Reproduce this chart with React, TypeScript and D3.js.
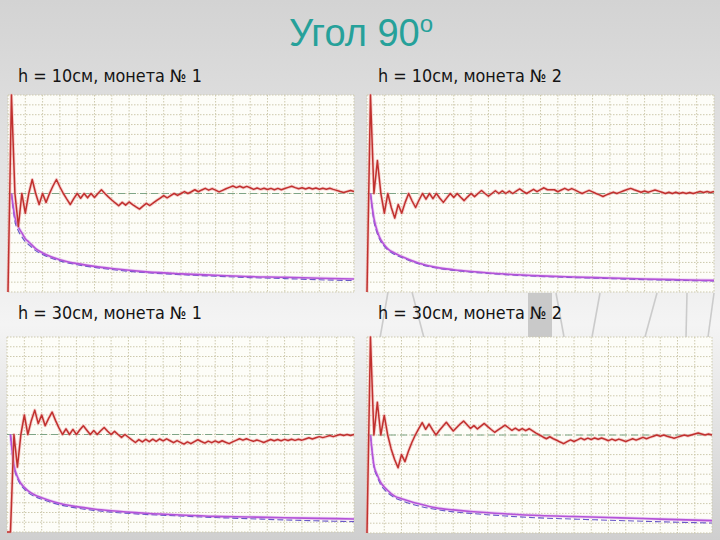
import React from 'react';
import * as d3 from 'd3';

// ---------- data ----------
const TITLE = 'Угол 90';
const TITLE_SUP = 'о';
const panelTitles = [
  'h = 10см, монета № 1',
  'h = 10см, монета № 2',
  'h = 30см, монета № 1',
  'h = 30см, монета № 2',
];

const X_MAX = 100;
const EXPECTED = 0.5;

// relative frequency of heads, throws n = 0..100
const freq1 = [0, 1, 0.5, 0.333, 0.5, 0.4, 0.5, 0.571, 0.5, 0.444, 0.5,
  0.455, 0.5, 0.538, 0.571, 0.533, 0.5, 0.471, 0.444, 0.474, 0.5,
  0.476, 0.5, 0.478, 0.5, 0.48, 0.5, 0.519, 0.5, 0.483, 0.467,
  0.452, 0.438, 0.455, 0.441, 0.457, 0.444, 0.432, 0.421, 0.436, 0.45,
  0.439, 0.452, 0.465, 0.477, 0.489, 0.478, 0.489, 0.5, 0.49, 0.5,
  0.51, 0.5, 0.509, 0.519, 0.509, 0.518, 0.526, 0.517, 0.525, 0.517,
  0.508, 0.516, 0.524, 0.531, 0.538, 0.53, 0.537, 0.529, 0.536, 0.529,
  0.521, 0.528, 0.521, 0.527, 0.52, 0.526, 0.519, 0.526, 0.519, 0.525,
  0.531, 0.537, 0.53, 0.524, 0.529, 0.523, 0.529, 0.523, 0.528, 0.522,
  0.527, 0.522, 0.527, 0.521, 0.516, 0.51, 0.505, 0.51, 0.515, 0.51];

const freq2 = [0, 1, 0.5, 0.667, 0.5, 0.4, 0.5, 0.429, 0.375, 0.444, 0.4,
  0.455, 0.5, 0.462, 0.429, 0.467, 0.5, 0.471, 0.5, 0.474, 0.5,
  0.476, 0.455, 0.478, 0.5, 0.48, 0.5, 0.481, 0.464, 0.483, 0.5,
  0.484, 0.5, 0.515, 0.5, 0.486, 0.5, 0.514, 0.5, 0.513, 0.5,
  0.512, 0.5, 0.512, 0.523, 0.511, 0.5, 0.511, 0.521, 0.51, 0.52,
  0.529, 0.519, 0.519, 0.519, 0.509, 0.518, 0.526, 0.517, 0.525, 0.517,
  0.508, 0.5, 0.508, 0.516, 0.508, 0.5, 0.493, 0.485, 0.493, 0.5,
  0.507, 0.5, 0.507, 0.514, 0.52, 0.526, 0.519, 0.513, 0.506, 0.513,
  0.506, 0.512, 0.518, 0.512, 0.506, 0.5, 0.506, 0.5, 0.506, 0.5,
  0.505, 0.5, 0.505, 0.5, 0.505, 0.51, 0.505, 0.51, 0.505, 0.51];

const freq3 = [0, 0, 0.5, 0.333, 0.5, 0.6, 0.5, 0.571, 0.625, 0.556, 0.6,
  0.545, 0.583, 0.615, 0.571, 0.533, 0.5, 0.529, 0.5, 0.526, 0.5,
  0.524, 0.545, 0.522, 0.5, 0.52, 0.5, 0.519, 0.536, 0.517, 0.5,
  0.516, 0.5, 0.485, 0.5, 0.486, 0.472, 0.459, 0.474, 0.462, 0.475,
  0.463, 0.476, 0.465, 0.477, 0.467, 0.478, 0.468, 0.458, 0.469, 0.46,
  0.451, 0.462, 0.453, 0.463, 0.473, 0.464, 0.456, 0.466, 0.458, 0.467,
  0.459, 0.468, 0.46, 0.453, 0.462, 0.47, 0.478, 0.471, 0.478, 0.471,
  0.465, 0.472, 0.466, 0.459, 0.467, 0.474, 0.468, 0.474, 0.468, 0.475,
  0.469, 0.476, 0.47, 0.476, 0.471, 0.477, 0.483, 0.477, 0.483, 0.489,
  0.484, 0.489, 0.495, 0.489, 0.495, 0.5, 0.495, 0.5, 0.495, 0.5];

const freq4 = [0, 1, 0.5, 0.667, 0.5, 0.6, 0.5, 0.429, 0.375, 0.333, 0.4,
  0.364, 0.417, 0.462, 0.5, 0.533, 0.563, 0.529, 0.556, 0.526, 0.5,
  0.524, 0.545, 0.565, 0.542, 0.52, 0.538, 0.556, 0.571, 0.552, 0.533,
  0.548, 0.531, 0.545, 0.559, 0.543, 0.528, 0.514, 0.526, 0.538, 0.55,
  0.537, 0.524, 0.535, 0.523, 0.533, 0.522, 0.532, 0.521, 0.51, 0.5,
  0.49, 0.481, 0.491, 0.481, 0.473, 0.464, 0.456, 0.466, 0.475, 0.467,
  0.475, 0.484, 0.476, 0.484, 0.477, 0.485, 0.478, 0.485, 0.478, 0.471,
  0.479, 0.472, 0.479, 0.473, 0.467, 0.474, 0.481, 0.474, 0.481, 0.488,
  0.481, 0.488, 0.494, 0.5, 0.494, 0.5, 0.494, 0.489, 0.483, 0.489,
  0.495, 0.5, 0.495, 0.5, 0.505, 0.51, 0.505, 0.5, 0.505, 0.5];

// deviation curves, sampled at these throw counts
const devN = [1, 2, 3, 4, 5, 6, 8, 10, 15, 20, 25, 30, 40, 50, 60, 70, 80, 90, 100];
const devActual1 = [0.5, 0.38, 0.33, 0.3, 0.27, 0.254, 0.22, 0.198, 0.164, 0.144, 0.13, 0.119, 0.102, 0.092, 0.085, 0.078, 0.075, 0.07, 0.066];
const devTheory1 = [0.5, 0.36, 0.31, 0.28, 0.255, 0.24, 0.21, 0.19, 0.158, 0.138, 0.125, 0.114, 0.098, 0.088, 0.08, 0.073, 0.068, 0.062, 0.058];
const devActual2 = [0.5, 0.374, 0.306, 0.264, 0.239, 0.219, 0.197, 0.18, 0.146, 0.125, 0.113, 0.104, 0.091, 0.082, 0.076, 0.071, 0.066, 0.062, 0.059];
const devTheory2 = [0.5, 0.36, 0.295, 0.255, 0.232, 0.213, 0.19, 0.175, 0.142, 0.122, 0.11, 0.101, 0.088, 0.079, 0.073, 0.068, 0.063, 0.059, 0.056];
const devActual3 = [0.5, 0.343, 0.283, 0.249, 0.229, 0.212, 0.19, 0.176, 0.147, 0.13, 0.118, 0.109, 0.096, 0.087, 0.08, 0.077, 0.073, 0.07, 0.067];
const devTheory3 = [0.5, 0.335, 0.275, 0.24, 0.22, 0.203, 0.182, 0.168, 0.14, 0.123, 0.111, 0.102, 0.09, 0.082, 0.074, 0.068, 0.062, 0.057, 0.053];
const devActual4 = [0.5, 0.346, 0.295, 0.257, 0.235, 0.217, 0.188, 0.175, 0.149, 0.128, 0.118, 0.11, 0.098, 0.089, 0.084, 0.079, 0.074, 0.068, 0.063];
const devTheory4 = [0.5, 0.34, 0.285, 0.245, 0.222, 0.205, 0.18, 0.165, 0.138, 0.12, 0.108, 0.1, 0.087, 0.077, 0.071, 0.065, 0.06, 0.055, 0.051];

const freqs = [freq1, freq2, freq3, freq4];
const devActual = [devActual1, devActual2, devActual3, devActual4];
const devTheory = [devTheory1, devTheory2, devTheory3, devTheory4];

// ---------- layout / style ----------
const W = 720;
const H = 540;
const panelBoxes = [
  { x0: 8, x1: 354, y0: 95, y1: 292, tx: 18, ty: 82 },
  { x0: 367, x1: 714, y0: 95, y1: 292, tx: 378, ty: 82 },
  { x0: 7, x1: 354, y0: 337, y1: 532, tx: 18, ty: 319 },
  { x0: 367, x1: 712, y0: 337, y1: 533, tx: 378, ty: 319 },
];

const C = {
  title: '#26a19a',
  text: '#141414',
  plotBg: '#fdfdf8',
  grid: '#cdc9ad',
  expected: '#7fa586',
  red: '#c0302e',
  redHalo: '#f0a8a8',
  actual: '#b453d8',
  actualHalo: '#e2b6f0',
  theory: '#6a58c8',
};

function Panel({ idx }: { idx: number }) {
  const b = panelBoxes[idx];
  const x = d3.scaleLinear().domain([0, X_MAX]).range([b.x0, b.x1]);
  const y = d3.scaleLinear().domain([0, 1]).range([b.y1, b.y0]);
  const redLine = d3
    .line<number>()
    .x((_, i) => x(i))
    .y((d) => y(d))(freqs[idx]) as string;
  const devLine = d3
    .line<number>()
    .x((_, i) => x(devN[i]))
    .y((d) => y(d))
    .curve(d3.curveMonotoneX);
  const actualPath = devLine(devActual[idx]) as string;
  const theoryPath = devLine(devTheory[idx]) as string;

  return (
    <g>
      <rect x={b.x0} y={b.y0} width={b.x1 - b.x0} height={b.y1 - b.y0} fill={C.plotBg} />
      {x.ticks(20).map((t) => (
        <line key={'vx' + t} x1={x(t)} x2={x(t)} y1={b.y0} y2={b.y1}
          stroke={C.grid} strokeWidth={1} strokeDasharray="1.5,1.5" />
      ))}
      {y.ticks(20).map((t) => (
        <line key={'hy' + t} x1={b.x0} x2={b.x1} y1={y(t)} y2={y(t)}
          stroke={C.grid} strokeWidth={1} strokeDasharray="1.5,1.5" />
      ))}
      <line x1={x(0)} x2={x(X_MAX)} y1={y(EXPECTED)} y2={y(EXPECTED)}
        stroke={C.expected} strokeWidth={1.2} strokeDasharray="7,4" />
      <path d={actualPath} fill="none" stroke={C.actualHalo} strokeWidth={3.2} opacity={0.6} />
      <path d={theoryPath} fill="none" stroke={C.theory} strokeWidth={1.1} strokeDasharray="6,3" />
      <path d={actualPath} fill="none" stroke={C.actual} strokeWidth={1.6} />
      <path d={redLine} fill="none" stroke={C.redHalo} strokeWidth={3.2} opacity={0.55} strokeLinejoin="round" />
      <path d={redLine} fill="none" stroke={C.red} strokeWidth={1.5} strokeLinejoin="round" />
      <text x={b.tx} y={b.ty} fontFamily="Tahoma, 'DejaVu Sans', Verdana, sans-serif"
        fontSize={17} fill={C.text} textLength={184} lengthAdjust="spacingAndGlyphs">
        {panelTitles[idx]}
      </text>
    </g>
  );
}

export default function App() {
  const decoLines = [
    [388, 292, 380, 338], [412, 292, 424, 338], [556, 293, 564, 337],
    [600, 293, 592, 337], [657, 293, 645, 337], [687, 293, 686, 337], [714, 293, 708, 337],
  ];
  return (
    <svg width={W} height={H} style={{ position: 'absolute', left: 0, top: 0, display: 'block' }}>
      <defs>
        <linearGradient id="bg" x1="0" y1="0" x2="0" y2="1">
          <stop offset="0" stopColor="#d3d3d3" />
          <stop offset="0.5" stopColor="#ededed" />
          <stop offset="0.6" stopColor="#f4f4f4" />
          <stop offset="1" stopColor="#cfcfcf" />
        </linearGradient>
      </defs>
      <rect x={0} y={0} width={W} height={H} fill="url(#bg)" />
      <rect x={528} y={293} width={24} height={44} fill="#c9c9c9" />
      {decoLines.map((l, i) => (
        <line key={i} x1={l[0]} y1={l[1]} x2={l[2]} y2={l[3]} stroke="#cbcbcb" strokeWidth={1.6} />
      ))}
      <text x={361} y={46} textAnchor="middle" fontFamily="'Liberation Sans', Arial, sans-serif"
        fontSize={38} fill={C.title}>
        {TITLE}
        <tspan fontSize={24} dy={-14}>{TITLE_SUP}</tspan>
      </text>
      {panelBoxes.map((_, i) => (
        <Panel key={i} idx={i} />
      ))}
    </svg>
  );
}
